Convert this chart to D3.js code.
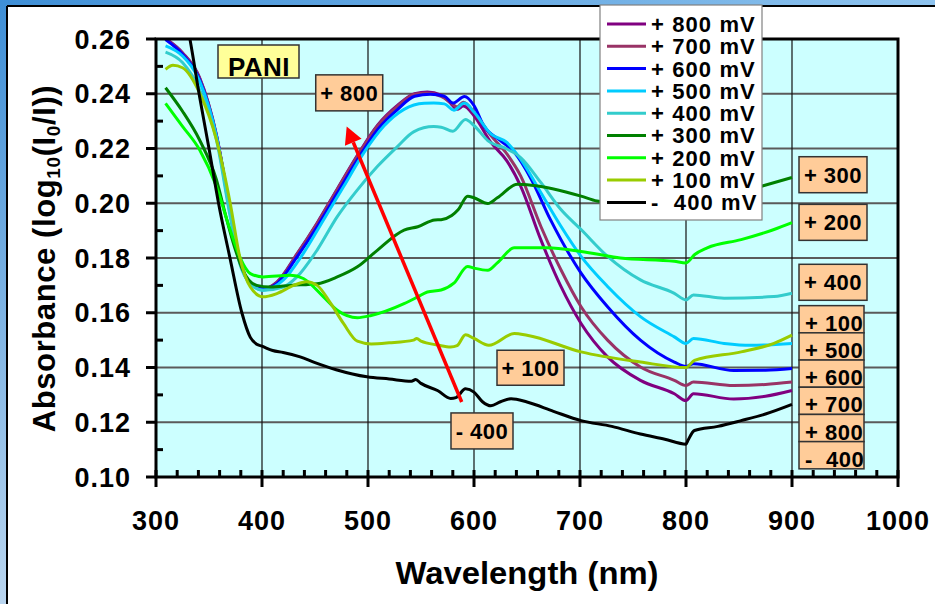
<!DOCTYPE html>
<html><head><meta charset="utf-8">
<script src="https://cdn.jsdelivr.net/npm/d3@7"></script>
<style>body{margin:0;background:#fff}svg{display:block}text{font-family:"Liberation Sans",Arial,sans-serif;font-weight:bold}</style>
</head><body><svg id="c" width="935" height="604"></svg>
<script>
// ---- data ----
const seriesNames = ["+ 800 mV","+ 700 mV","+ 600 mV","+ 500 mV","+ 400 mV","+ 300 mV","+ 200 mV","+ 100 mV","-  400 mV"];
const seriesColors = ["#800080","#993366","#0000FF","#00CCFF","#33CCCC","#008000","#00FF00","#99CC00","#000000"];
const xTicks = [300,400,500,600,700,800,900,1000];
const yTicks = [0.10,0.12,0.14,0.16,0.18,0.20,0.22,0.24,0.26];
const mv800 = [[309,0.2602],[325,0.2550],[341,0.2460],[357,0.2250],[370,0.1975],[379,0.1795],[389,0.1708],[401,0.1688],[414,0.1712],[433,0.1815],[452,0.1928],[471,0.2052],[490,0.2175],[509,0.2285],[528,0.2358],[544,0.2400],[556,0.2406],[569,0.2395],[578,0.2365],[584,0.2343],[590,0.2355],[600,0.2320],[616,0.2222],[631,0.2155],[644,0.2063],[663,0.1867],[682,0.1696],[701,0.1561],[726,0.1439],[757,0.1353],[789,0.1304],[800,0.1279],[807,0.1304],[845,0.1285],[875,0.1295],[900,0.1316]];
const mv700 = [[309,0.2600],[325,0.2548],[341,0.2458],[357,0.2248],[370,0.1975],[379,0.1794],[389,0.1707],[401,0.1688],[414,0.1710],[433,0.1813],[452,0.1926],[471,0.2050],[490,0.2172],[509,0.2282],[528,0.2355],[544,0.2398],[556,0.2402],[569,0.2390],[578,0.2368],[584,0.2352],[590,0.2369],[600,0.2333],[616,0.2247],[631,0.2180],[644,0.2100],[663,0.1916],[682,0.1757],[701,0.1622],[726,0.1500],[757,0.1402],[789,0.1353],[800,0.1334],[807,0.1347],[845,0.1334],[875,0.1338],[900,0.1347]];
const mv600 = [[309,0.2598],[325,0.2544],[341,0.2453],[357,0.2245],[370,0.1976],[379,0.1792],[389,0.1706],[401,0.1688],[414,0.1706],[433,0.1804],[452,0.1914],[471,0.2037],[490,0.2159],[509,0.2269],[528,0.2343],[544,0.2391],[559,0.2398],[572,0.2391],[580,0.2366],[591,0.2390],[600,0.2357],[609,0.2284],[625,0.2229],[638,0.2186],[654,0.2088],[672,0.1941],[701,0.1745],[726,0.1622],[757,0.1500],[789,0.1420],[800,0.1404],[807,0.1414],[845,0.1389],[875,0.1390],[900,0.1396]];
const mv500 = [[309,0.2575],[325,0.2538],[341,0.2447],[357,0.2245],[370,0.1963],[379,0.1792],[389,0.1706],[401,0.1682],[420,0.1719],[439,0.1817],[458,0.1939],[477,0.2061],[496,0.2184],[515,0.2282],[534,0.2343],[553,0.2365],[562,0.2366],[572,0.2363],[581,0.2340],[591,0.2366],[600,0.2333],[616,0.2253],[631,0.2222],[644,0.2161],[663,0.2039],[682,0.1916],[701,0.1806],[726,0.1696],[757,0.1586],[789,0.1512],[800,0.1488],[807,0.1506],[836,0.1488],[861,0.1481],[900,0.1488]];
const mv400 = [[309,0.2552],[325,0.2514],[341,0.2416],[357,0.2232],[370,0.1951],[379,0.1780],[389,0.1706],[401,0.1682],[420,0.1694],[433,0.1731],[452,0.1829],[471,0.1951],[490,0.2049],[509,0.2135],[528,0.2208],[543,0.2261],[562,0.2280],[569,0.2278],[580,0.2263],[592,0.2306],[600,0.2284],[613,0.2229],[631,0.2198],[644,0.2167],[663,0.2076],[682,0.1977],[701,0.1904],[726,0.1806],[757,0.1720],[789,0.1671],[800,0.1647],[807,0.1665],[836,0.1653],[883,0.1659],[900,0.1671]];
const mv300 = [[309,0.2422],[325,0.2336],[341,0.2232],[357,0.2086],[366,0.1951],[374,0.1841],[382,0.1755],[395,0.1700],[408,0.1694],[427,0.1700],[452,0.1706],[471,0.1731],[490,0.1768],[509,0.1829],[534,0.1902],[547,0.1914],[563,0.1939],[569,0.1940],[579,0.1955],[585,0.1976],[594,0.2026],[600,0.2020],[613,0.1999],[622,0.2020],[641,0.2069],[654,0.2066],[701,0.2026],[716,0.2008],[750,0.1995],[790,0.1985],[800,0.1980],[810,0.2005],[840,0.2030],[872,0.2063],[900,0.2094]];
const mv200 = [[309,0.2365],[325,0.2281],[341,0.2196],[357,0.2061],[370,0.1902],[379,0.1804],[389,0.1743],[401,0.1731],[427,0.1737],[439,0.1725],[458,0.1658],[471,0.1609],[490,0.1582],[503,0.1590],[534,0.1633],[547,0.1658],[556,0.1676],[569,0.1683],[581,0.1708],[594,0.1769],[600,0.1763],[613,0.1755],[622,0.1782],[638,0.1837],[669,0.1837],[701,0.1824],[738,0.1800],[789,0.1788],[800,0.1782],[808,0.1812],[820,0.1837],[852,0.1867],[883,0.1904],[900,0.1929]];
const mv100 = [[309,0.2489],[316,0.2504],[325,0.2495],[341,0.2404],[357,0.2232],[370,0.2000],[379,0.1804],[389,0.1694],[401,0.1658],[414,0.1670],[430,0.1700],[442,0.1713],[452,0.1700],[465,0.1633],[477,0.1560],[490,0.1496],[503,0.1486],[520,0.1490],[543,0.1500],[546,0.1506],[550,0.1496],[566,0.1482],[578,0.1475],[584,0.1480],[592,0.1520],[600,0.1506],[614,0.1481],[638,0.1524],[650,0.1518],[701,0.1457],[757,0.1420],[800,0.1400],[808,0.1426],[852,0.1457],[883,0.1488],[900,0.1518]];
const mvNeg400 = [[309,0.300],[320,0.282],[332,0.260],[341,0.2392],[350,0.2200],[359,0.2000],[370,0.1796],[381,0.1600],[389,0.1510],[395,0.1485],[400,0.1478],[410,0.1462],[420,0.1455],[436,0.1439],[450,0.1418],[470,0.1392],[499,0.1366],[520,0.1358],[541,0.1350],[545,0.1356],[550,0.1342],[566,0.1315],[578,0.1287],[583,0.1290],[592,0.1322],[600,0.1310],[608,0.1275],[616,0.1260],[625,0.1275],[635,0.1286],[650,0.1274],[675,0.1240],[701,0.1206],[730,0.1185],[757,0.1157],[780,0.1138],[800,0.1120],[802,0.1135],[808,0.1170],[830,0.1185],[852,0.1206],[875,0.1230],[900,0.1265]];
const seriesData = [mv800,mv700,mv600,mv500,mv400,mv300,mv200,mv100,mvNeg400];
// annotations (data coordinates of box top-left)
const calloutLabels = ["+ 800","+ 100","- 400"];
const calloutPos = [[450.7,0.2469],[621.7,0.1463],[578.3,0.1234]];
const sideLabels = ["+ 300","+ 200","+ 400"];
const sideTops = [0.2170,0.1996,0.1777];
const stackLabels = ["+ 100","+ 500","+ 600","+ 700","+ 800","-  400"];
const stackTop = 0.1626;
const arrowFrom = [588.4,0.1274], arrowTo = [479.9,0.2280];

// ---- drawing ----
const svg = d3.select("#c");
const W=935,H=604;
const x = d3.scaleLinear().domain([300,1000]).range([156,898]);
const y = d3.scaleLinear().domain([0.10,0.26]).range([477,39]);
const defs = svg.append("defs");
const lg = defs.append("linearGradient").attr("id","lg").attr("x1",0).attr("y1",0).attr("x2",0).attr("y2",1);
lg.append("stop").attr("offset","0%").attr("stop-color","#3f8fd6");
lg.append("stop").attr("offset","100%").attr("stop-color","#b9d5ef");
const tg = defs.append("linearGradient").attr("id","tg").attr("x1",0).attr("y1",0).attr("x2",1).attr("y2",0);
tg.append("stop").attr("offset","0%").attr("stop-color","#3f8fd6");
tg.append("stop").attr("offset","100%").attr("stop-color","#8ec3ee");
svg.append("rect").attr("x",0).attr("y",0).attr("width",W).attr("height",H).attr("fill","#fff");
svg.append("rect").attr("x",0).attr("y",0).attr("width",7).attr("height",H).attr("fill","url(#lg)");
svg.append("rect").attr("x",0).attr("y",0).attr("width",W).attr("height",6).attr("fill","url(#tg)");
svg.append("line").attr("x1",7).attr("x2",7).attr("y1",6).attr("y2",H).attr("stroke","#000").attr("stroke-width",2);
svg.append("line").attr("x1",7).attr("x2",W).attr("y1",6).attr("y2",6).attr("stroke","#000").attr("stroke-width",2);

defs.append("clipPath").attr("id","pc").append("rect").attr("x",156).attr("y",39).attr("width",742).attr("height",438);
// plot bg
svg.append("rect").attr("x",156).attr("y",39).attr("width",742).attr("height",438).attr("fill","#CCFFFF");
// gridlines
svg.append("g").selectAll("line").data(yTicks.slice(1,-1)).join("line")
  .attr("x1",156).attr("x2",898).attr("y1",d=>y(d)).attr("y2",d=>y(d)).attr("stroke","#5a5a5a").attr("stroke-width",2);
svg.append("g").selectAll("line").data(xTicks.slice(1,-1)).join("line")
  .attr("x1",d=>x(d)).attr("x2",d=>x(d)).attr("y1",39).attr("y2",477).attr("stroke","#111").attr("stroke-width",1.2);

// curves
const line = d3.line().x(d=>x(d[0])).y(d=>y(d[1])).curve(d3.curveMonotoneX);
const cg = svg.append("g").attr("clip-path","url(#pc)");
seriesData.forEach((s,i)=>{
  cg.append("path").attr("d",line(s)).attr("fill","none").attr("stroke",seriesColors[i]).attr("stroke-width",3).attr("stroke-linejoin","round");
});

// frame
svg.append("rect").attr("x",156).attr("y",39).attr("width",742).attr("height",438).attr("fill","none").attr("stroke","#000").attr("stroke-width",3);
// y ticks
const tk = svg.append("g").attr("stroke","#000").attr("stroke-width",3);
yTicks.forEach(v=>tk.append("line").attr("x1",146).attr("x2",156).attr("y1",y(v)).attr("y2",y(v)));
d3.range(0.11,0.26,0.02).forEach(v=>tk.append("line").attr("x1",156).attr("x2",163).attr("y1",y(v)).attr("y2",y(v)));
xTicks.forEach(v=>tk.append("line").attr("x1",x(v)).attr("x2",x(v)).attr("y1",470).attr("y2",487));
d3.range(320,1000,20).filter(v=>v%100!==0).forEach(v=>tk.append("line").attr("x1",x(v)).attr("x2",x(v)).attr("y1",470).attr("y2",477));
// tick labels
svg.append("g").selectAll("text").data(yTicks).join("text")
  .attr("x",131).attr("y",d=>y(d)).attr("dy","0.36em").attr("text-anchor","end")
  .attr("font-size",27).attr("letter-spacing",1).text(d=>d.toFixed(2));
svg.append("g").selectAll("text").data(xTicks).join("text")
  .attr("x",d=>x(d)).attr("y",530).attr("text-anchor","middle")
  .attr("font-size",27).attr("letter-spacing",1).text(d=>d);
// axis titles
svg.append("text").attr("x",527).attr("y",584).attr("text-anchor","middle").attr("font-size",31)
  .attr("textLength",263).attr("lengthAdjust","spacingAndGlyphs").text("Wavelength (nm)");
const yt = svg.append("text").attr("transform","translate(55,258.5) rotate(-90)").attr("text-anchor","middle").attr("font-size",31).attr("letter-spacing",0.6);
yt.append("tspan").text("Absorbance (log");
yt.append("tspan").attr("font-size",19).attr("dy",5).text("10");
yt.append("tspan").attr("dy",-5).text("(I");
yt.append("tspan").attr("font-size",19).attr("dy",5).text("0");
yt.append("tspan").attr("dy",-5).text("/I))");

// PANI box
svg.append("rect").attr("x",218).attr("y",45).attr("width",81).attr("height",33).attr("fill","#FFFF99").attr("stroke","#333").attr("stroke-width",1.5);
svg.append("text").attr("x",259).attr("y",66.3).attr("dy","0.36em").attr("text-anchor","middle").attr("font-size",26).attr("letter-spacing",0.5).text("PANI");

// arrow
const ax1=x(arrowFrom[0]), ay1=y(arrowFrom[1]), ax2=x(arrowTo[0]), ay2=y(arrowTo[1]);
const ang=Math.atan2(ay2-ay1,ax2-ax1), hl=17, hw=9;
const bx=ax2-hl*Math.cos(ang), by=ay2-hl*Math.sin(ang);
svg.append("line").attr("x1",ax1).attr("y1",ay1).attr("x2",bx).attr("y2",by).attr("stroke","#FF0000").attr("stroke-width",3.5);
svg.append("path").attr("d",`M${ax2},${ay2}L${bx+hw*Math.sin(ang)},${by-hw*Math.cos(ang)}L${bx-hw*Math.sin(ang)},${by+hw*Math.cos(ang)}Z`).attr("fill","#FF0000");

function box(px,py,w,h,label,fs,tx,baseline){
  svg.append("rect").attr("x",px).attr("y",py).attr("width",w).attr("height",h).attr("fill","#FFCC99").attr("stroke","#333").attr("stroke-width",1.5);
  const t=svg.append("text").attr("font-size",fs).attr("letter-spacing",0.5).style("white-space","pre");
  if(baseline){t.attr("x",px+tx).attr("y",py+h-2).text(label);}
  else {t.attr("x",px+w/2).attr("y",py+h/2).attr("dy","0.36em").attr("text-anchor","middle").text(label);}
}
// callouts
box(x(calloutPos[0][0]),y(calloutPos[0][1]),67,36,calloutLabels[0],22);
box(x(calloutPos[1][0]),y(calloutPos[1][1]),67,35,calloutLabels[1],22);
box(x(calloutPos[2][0]),y(calloutPos[2][1]),62,36,calloutLabels[2],22);
sideLabels.forEach((l,i)=>box(799,y(sideTops[i]),68,36,l,22));
stackLabels.forEach((l,i)=>box(799,y(stackTop)+i*27.2,65,27.2,l,22,6,true));

// legend
svg.append("rect").attr("x",600).attr("y",5).attr("width",162).attr("height",215).attr("fill","#fff").attr("stroke","#808080").attr("stroke-width",1.2);
seriesNames.forEach((n,i)=>{
  const cy=24+i*22.3;
  svg.append("line").attr("x1",607).attr("x2",646).attr("y1",cy).attr("y2",cy).attr("stroke",seriesColors[i]).attr("stroke-width",3);
  svg.append("text").attr("x",651).attr("y",cy).attr("dy","0.36em").attr("font-size",22).attr("letter-spacing",1.1).style("white-space","pre").text(n);
});
</script></body></html>
